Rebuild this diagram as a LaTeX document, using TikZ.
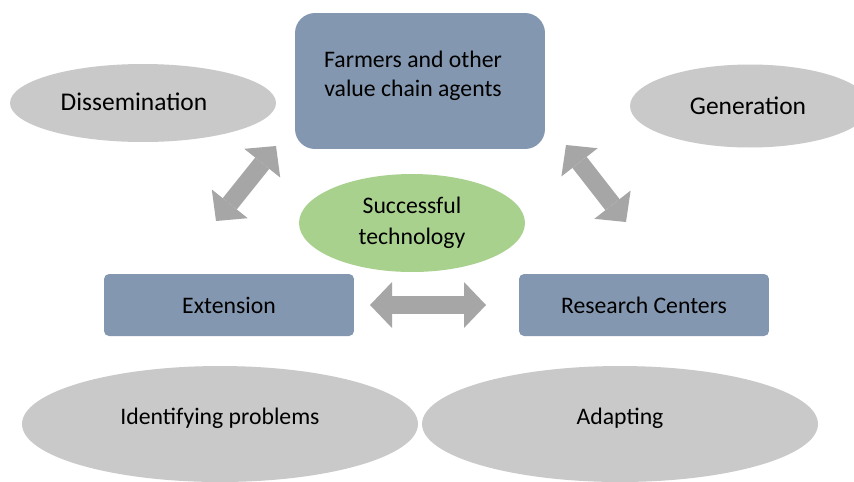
\documentclass[tikz,border=0pt]{standalone}
\usepackage{fontspec}
\setmainfont{Carlito}
\usetikzlibrary{shapes.geometric,arrows.meta}
\definecolor{boxblue}{HTML}{8497B0}
\definecolor{ovalgray}{HTML}{C9C9C9}
\definecolor{techgreen}{HTML}{A9D18E}
\definecolor{arrowgray}{HTML}{A6A6A6}
\tikzset{
  oval/.style={ellipse, fill=ovalgray, inner sep=0pt},
  agent/.style={rectangle, fill=boxblue, inner sep=0pt, rounded corners=0.1cm},
  fat/.tip={Triangle[width=0.92cm, length=0.44cm, line width=0pt]},
  link/.style={draw=arrowgray, line width=0.36cm, fat-fat}
}
\begin{document}
\begin{tikzpicture}[x=0.02cm, y=-0.02cm, font=\fontsize{13.5}{16.5}\selectfont]
\useasboundingbox (0,0) rectangle (854,481);
\fill[white] (0,0) rectangle (854,481);
% roles
\node[oval, minimum width=5.32cm, minimum height=1.56cm] (dissem) at (143,103) {};
\node[font=\fontsize{14.5}{17}\selectfont] (dissemtxt) at (134,102) {Dissemination};
\node[oval, minimum width=4.8cm, minimum height=1.66cm] (gen) at (750,106) {};
\node[font=\fontsize{14.5}{17}\selectfont] (gentxt) at (748,106) {Generation};
\node[oval, minimum width=7.92cm, minimum height=2.32cm] (ident) at (220,424) {};
\node (identtxt) at (220,418) {Identifying problems};
\node[oval, minimum width=7.92cm, minimum height=2.32cm] (adapt) at (620,424) {};
\node (adapttxt) at (620,418) {Adapting};
% agents
\node[agent, rounded corners=0.4cm, minimum width=5cm, minimum height=2.72cm] (farmers) at (420,81) {};
\node[align=center, font=\fontsize{13.5}{16.5}\selectfont] (farmerstxt) at (413,76) {Farmers and other\\value chain agents};
\node[agent, minimum width=5cm, minimum height=1.24cm] (ext) at (229,305) {Extension};
\node[agent, minimum width=5cm, minimum height=1.24cm] (research) at (644,305) {Research Centers};
\node[ellipse, fill=techgreen, inner sep=0pt, minimum width=4.52cm, minimum height=1.96cm,
      align=center, font=\fontsize{13.5}{17.6}\selectfont] (tech) at (412,223) {Successful\\technology};
% links
\coordinate (dl1) at (216,221);
\coordinate (dl2) at (276,146);
\coordinate (dr1) at (566,145);
\coordinate (dr2) at (626,222);
\coordinate (h1) at (370,305);
\coordinate (h2) at (486,305);
\draw[link] (dl1) -- (dl2);
\draw[link] (dr1) -- (dr2);
\draw[link] (h1) -- (h2);
\end{tikzpicture}
\end{document}
